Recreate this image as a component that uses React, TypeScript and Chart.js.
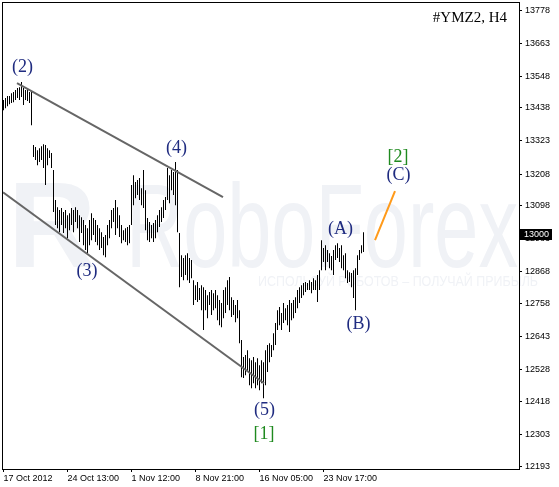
import React, { useEffect, useRef } from 'react';
import { Chart, registerables } from 'chart.js';

Chart.register(...registerables);

// H4 bars: high / low per bar (index 0 = 17 Oct 2012)
const highs = [
  13465, 13472, 13479, 13479, 13489, 13493, 13500, 13507, 13510, 13528,
  13507, 13500, 13503, 13493, 13493, 13309, 13302, 13291, 13298, 13305,
  13312, 13309, 13298, 13291, 13281, 13222, 13118, 13093, 13083, 13090,
  13076, 13083, 13065, 13072, 13090, 13083, 13093, 13083, 13065, 13058,
  13048, 13031, 13020, 13048, 13072, 13055, 13048, 13031, 13020, 13006,
  12989, 12996, 13031, 13048, 13083, 13090, 13118, 13093, 13065, 13031,
  13013, 13020, 13024, 13031, 13170, 13204, 13180, 13187, 13194, 13159,
  13222, 13152, 13055, 13041, 13031, 13038, 13048, 13065, 13083, 13093,
  13118, 13128, 13229, 13204, 13222, 13215, 13250, 13222, 13003, 12926,
  12916, 12926, 12933, 12916, 12909, 12839, 12822, 12833, 12812, 12822,
  12815, 12805, 12787, 12798, 12805, 12794, 12805, 12787, 12770, 12760,
  12805, 12815, 12839, 12850, 12780, 12770, 12753, 12770, 12735, 12631,
  12572, 12579, 12596, 12568, 12561, 12572, 12554, 12568, 12544, 12561,
  12554, 12596, 12614, 12620, 12614, 12655, 12690, 12735, 12746, 12725,
  12760, 12742, 12753, 12770, 12760, 12770, 12780, 12805, 12815, 12822,
  12829, 12833, 12829, 12839, 12833, 12846, 12839, 12857, 12874, 12978,
  12951, 12961, 12944, 12933, 12923, 12944, 12961, 12968, 12951, 12961,
  12926, 12933, 12874, 12867, 12864, 12874, 12881, 12926, 12944, 12961,
  13006,
];
const lows = [
  13430, 13437, 13444, 13451, 13455, 13458, 13465, 13472, 13465, 13476,
  13448, 13465, 13462, 13455, 13378, 13267, 13257, 13239, 13250, 13257,
  13229, 13170, 13239, 13264, 13229, 13076, 13031, 13020, 13006, 13031,
  13003, 13020, 12985, 13013, 13031, 13006, 13041, 13020, 12972, 13003,
  12961, 12944, 12933, 12961, 12978, 12996, 12972, 12961, 12944, 12951,
  12926, 12919, 12961, 12985, 13020, 13041, 12996, 13020, 12989, 12968,
  12978, 12972, 12961, 12968, 13031, 13100, 13124, 13135, 13118, 13100,
  13090, 13013, 12978, 12972, 12985, 12972, 12985, 13006, 13024, 13041,
  13055, 13083, 13118, 13107, 13152, 13135, 13100, 13006, 12815, 12850,
  12839, 12857, 12839, 12829, 12846, 12753, 12770, 12763, 12770, 12735,
  12666, 12735, 12707, 12753, 12718, 12735, 12742, 12700, 12683, 12676,
  12707, 12725, 12753, 12735, 12711, 12718, 12693, 12707, 12620, 12502,
  12499, 12509, 12520, 12474, 12464, 12481, 12464, 12474, 12457, 12481,
  12429, 12474, 12520, 12554, 12572, 12596, 12614, 12666, 12683, 12666,
  12690, 12700, 12683, 12659, 12700, 12707, 12725, 12742, 12760, 12777,
  12787, 12798, 12805, 12805, 12794, 12805, 12805, 12763, 12805, 12874,
  12902, 12874, 12902, 12881, 12874, 12857, 12909, 12916, 12902, 12881,
  12874, 12846, 12829, 12833, 12815, 12777, 12735, 12857, 12909, 12933,
  12937,
];

const yTickValues = [13778, 13663, 13548, 13438, 13323, 13208, 13098, 12983, 12868, 12758, 12643, 12528, 12418, 12303, 12193];
const xTickIndex = [0, 32, 64, 96, 128, 160];
const xTickLabels = ['17 Oct 2012', '24 Oct 13:00', '1 Nov 12:00', '8 Nov 21:00', '16 Nov 05:00', '23 Nov 17:00'];

const upperChannel = [{ x: 6.75, y: 13524 }, { x: 109.75, y: 13128 }];
const lowerChannel = [{ x: -0.25, y: 13145 }, { x: 130.25, y: 12481 }];
const projection = [{ x: 185.75, y: 12978 }, { x: 195.75, y: 13149 }];

const NAVY = '#1f2b80';
const GREEN = '#1f8a1f';
const waveLabels = [
  { text: '(2)', x: 9.5, y: 13578, color: NAVY },
  { text: '(4)', x: 86.5, y: 13297, color: NAVY },
  { text: '(3)', x: 41.75, y: 12869, color: NAVY },
  { text: '(5)', x: 130.5, y: 12388, color: NAVY },
  { text: '[1]', x: 130.25, y: 12304, color: GREEN },
  { text: '(A)', x: 168.5, y: 13015, color: NAVY },
  { text: '(B)', x: 177.5, y: 12685, color: NAVY },
  { text: '[2]', x: 197.25, y: 13265, color: GREEN },
  { text: '(C)', x: 197.5, y: 13203, color: NAVY },
];

const currentPrice = 13000;
const title = '#YMZ2, H4';

const decorPlugin = {
  id: 'decor',
  beforeDraw(chart: any) {
    const ctx = chart.ctx;
    ctx.save();
    ctx.fillStyle = '#f0f2f6';
    ctx.textBaseline = 'alphabetic';
    ctx.textAlign = 'left';
    ctx.font = 'bold 122px "Liberation Sans"';
    ctx.fillText('R', 8, 267, 105);
    ctx.font = '118px "Liberation Sans"';
    ctx.fillText('RoboForex', 126, 267, 392);
    ctx.font = '14px "Liberation Sans"';
    ctx.fillText('ИСПОЛЬЗУЙ РОБОТОВ – ПОЛУЧАЙ ПРИБЫЛЬ', 258, 286, 280);
    ctx.restore();
  },
  afterDraw(chart: any) {
    const ctx = chart.ctx;
    const { left, top, right, bottom } = chart.chartArea;
    const xs = chart.scales.x;
    const ys = chart.scales.y;
    ctx.save();
    ctx.strokeStyle = '#000';
    ctx.lineWidth = 1;
    ctx.strokeRect(left - 0.5, top + 0.5, right - left + 1, bottom - top);
    ctx.textAlign = 'center';
    ctx.textBaseline = 'middle';
    ctx.font = '18px "Liberation Serif"';
    for (const l of waveLabels) {
      ctx.fillStyle = l.color;
      ctx.fillText(l.text, xs.getPixelForValue(l.x), ys.getPixelForValue(l.y));
    }
    ctx.fillStyle = '#000';
    ctx.textAlign = 'right';
    ctx.textBaseline = 'alphabetic';
    ctx.font = '15px "Liberation Serif"';
    ctx.fillText(title, 507, 22);
    const py = Math.round(ys.getPixelForValue(currentPrice));
    ctx.fillStyle = '#000';
    ctx.fillRect(right + 1, py - 5, 32, 11);
    ctx.fillStyle = '#fff';
    ctx.textAlign = 'left';
    ctx.textBaseline = 'middle';
    ctx.font = '9px "Liberation Sans"';
    ctx.fillText(String(currentPrice), right + 5, py + 0.5);
    ctx.restore();
  },
};

export default function App() {
  const ref = useRef<HTMLCanvasElement>(null);
  useEffect(() => {
    document.body.style.margin = '0';
    const canvas = ref.current!;
    const chart = new Chart(canvas, {
      type: 'bar',
      data: {
        datasets: [
          {
            type: 'bar',
            data: highs.map((h, i) => ({ x: i, y: [lows[i], h] })) as any,
            backgroundColor: '#000',
            borderWidth: 0,
            barThickness: 1,
            inflateAmount: 0,
            grouped: false,
            order: 2,
          } as any,
          { type: 'line', data: upperChannel, borderColor: '#666666', borderWidth: 2, pointRadius: 0, order: 1 },
          { type: 'line', data: lowerChannel, borderColor: '#666666', borderWidth: 2, pointRadius: 0, order: 1 },
          { type: 'line', data: projection, borderColor: '#ff9a1a', borderWidth: 2, pointRadius: 0, order: 1 },
        ],
      },
      options: {
        animation: false,
        responsive: false,
        events: [],
        layout: { padding: { left: 3, top: 2, right: 0, bottom: 0 } },
        plugins: { legend: { display: false }, tooltip: { enabled: false } },
        scales: {
          x: {
            type: 'linear',
            offset: false,
            min: -0.25,
            max: 257.75,
            border: { display: false },
            grid: { offset: false, drawOnChartArea: false, drawTicks: true, tickLength: 3, color: '#000' },
            afterBuildTicks: (scale: any) => {
              scale.ticks = xTickIndex.map((v) => ({ value: v }));
            },
            afterFit: (scale: any) => {
              scale.height = 18;
              scale.paddingLeft = 0;
              scale.paddingRight = 0;
            },
            ticks: {
              autoSkip: false,
              maxRotation: 0,
              minRotation: 0,
              align: 'start',
              padding: 1,
              color: '#000',
              font: { family: 'Liberation Sans', size: 9 },
              callback: (value: any) => {
                const k = xTickIndex.indexOf(Number(value));
                return k >= 0 ? xTickLabels[k] : '';
              },
            },
          },
          y: {
            type: 'linear',
            position: 'right',
            min: 12183,
            max: 13806,
            border: { display: false },
            grid: { drawOnChartArea: false, drawTicks: true, tickLength: 3, color: '#000' },
            afterBuildTicks: (scale: any) => {
              scale.ticks = yTickValues.map((v) => ({ value: v }));
            },
            afterFit: (scale: any) => {
              scale.width = 40;
              scale.paddingTop = 0;
              scale.paddingBottom = 0;
            },
            ticks: {
              autoSkip: false,
              padding: 3,
              color: '#000',
              font: { family: 'Liberation Sans', size: 9 },
              callback: (value: any) => String(value),
            },
          },
        },
      } as any,
      plugins: [decorPlugin],
    });
    return () => chart.destroy();
  }, []);
  return (
    <div style={{ width: 559, height: 487 }}>
      <canvas ref={ref} width={559} height={487} style={{ display: 'block' }} />
    </div>
  );
}
